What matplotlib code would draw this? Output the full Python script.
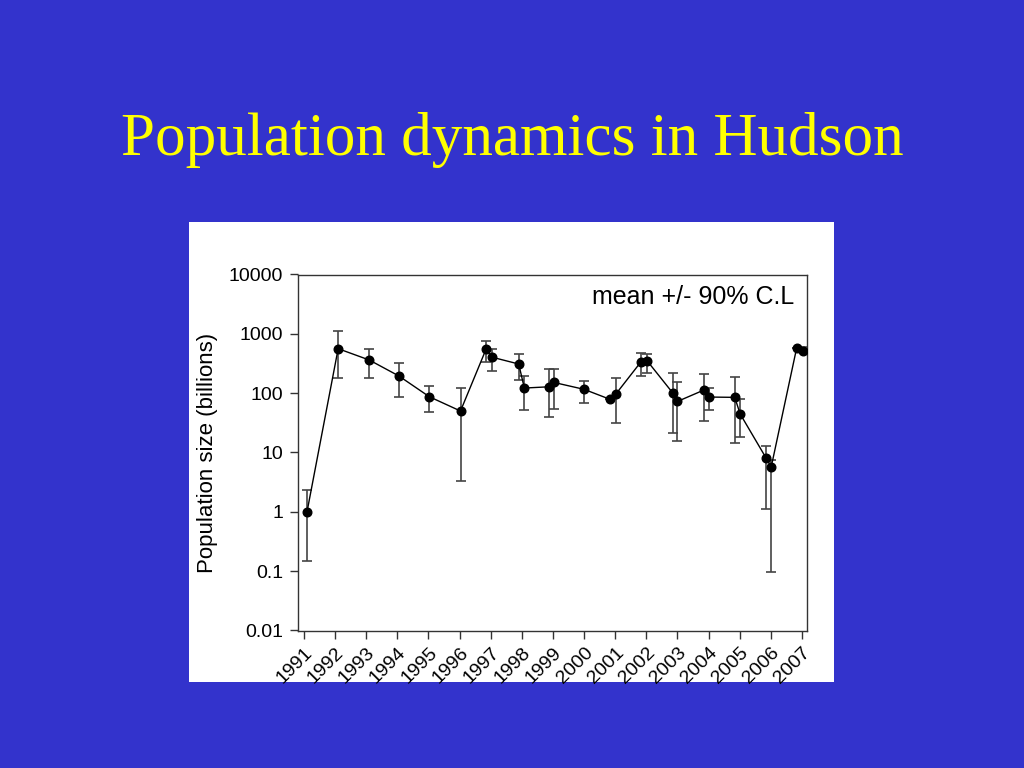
import matplotlib
matplotlib.use("Agg")
import matplotlib.pyplot as plt
import numpy as np

title = "Population dynamics in Hudson"
y_label = "Population size (billions)"
note = "mean +/- 90% C.L"
year_labels = ["1991", "1992", "1993", "1994", "1995", "1996", "1997", "1998", "1999",
               "2000", "2001", "2002", "2003", "2004", "2005", "2006", "2007"]
y_ticks = [0.01, 0.1, 1, 10, 100, 1000, 10000]
y_tick_labels = ["0.01", "0.1", "1", "10", "100", "1000", "10000"]

sample_time = [1991.1, 1992.1, 1993.1, 1994.05, 1995.03, 1996.03, 1996.85, 1997.05,
               1997.9, 1998.08, 1998.87, 1999.02, 2000.0, 2000.84, 2001.02, 2001.83,
               2002.03, 2002.84, 2003.0, 2003.85, 2004.02, 2004.84, 2005.01, 2005.85,
               2006.01, 2006.83, 2007.02]
mean_size = [1.0, 562, 362, 195, 87, 50, 550, 403, 310, 122, 128, 152, 116, 78.5,
             96.6, 339, 348, 102, 72.6, 113, 86, 85, 44.9, 8.0, 5.7, 585, 520]
upper_cl = [2.3, 1107, 550, 318, 132, 120, 750, 556, 452, 197, 255, 258, 160, 78.5,
            178, 482, 463, 216, 152, 207, 123, 189, 78.5, 13.1, 7.4, 585, 600]
lower_cl = [0.148, 180, 180, 85, 48, 3.27, 339, 236, 166, 52, 39, 54, 69, 78.5,
            31, 195, 221, 21.4, 15.7, 34.2, 53, 14.2, 17.9, 1.11, 0.096, 585, 520]

W, H = 1024, 768
fig = plt.figure(figsize=(W / 100, H / 100), dpi=100, facecolor="#3333CC")

# white panel behind the chart
panel = fig.add_axes([189 / W, 1 - 682 / H, (834 - 189) / W, (682 - 222) / H], zorder=-1)
panel.set_facecolor("white")
panel.set_xticks([])
panel.set_yticks([])
for s in panel.spines.values():
    s.set_visible(False)

fig.text(512 / W, 1 - 140 / H, title, color="#FFFF00", fontsize=44,
         family="Liberation Serif", ha="center", va="center")

left, right, top, bottom = 298.3, 806.7, 274.5, 630.5
ax = fig.add_axes([left / W, 1 - bottom / H, (right - left) / W, (bottom - top) / H], zorder=1)
ax.set_facecolor("white")

x = np.array(sample_time)
m = np.array(mean_size)
yerr = np.vstack([m - np.array(lower_cl), np.array(upper_cl) - m])

ax.errorbar(x, m, yerr=yerr, fmt="none", ecolor="#444444", elinewidth=1.2,
            capsize=3.8, capthick=1.2, zorder=2)
ax.plot(x, m, color="black", linewidth=1.0, marker="o", markersize=6.2,
        markerfacecolor="black", markeredgecolor="black", zorder=3)

ax.set_yscale("log")
ax.set_ylim(0.01, 10000)
ax.set_xlim(1990.82, 2007.15)
ax.set_yticks(y_ticks)
ax.set_yticklabels(y_tick_labels, fontsize=14, family="Liberation Sans")
ax.minorticks_off()
xt = [int(s) for s in year_labels]
ax.set_xticks(xt)
ax.set_xticklabels(year_labels, fontsize=14, family="Liberation Sans",
                   rotation=45, ha="right", rotation_mode="anchor")
ax.tick_params(axis="both", direction="out", length=6, width=1, color="#333333")
ax.tick_params(axis="y", pad=5)
ax.tick_params(axis="x", pad=4)
for s in ax.spines.values():
    s.set_linewidth(1.0)
    s.set_color("#333333")

ax.set_ylabel(y_label, fontsize=16, family="Liberation Sans", labelpad=8)
ax.text(0.975, 0.97, note, transform=ax.transAxes, ha="right", va="top",
        fontsize=18, family="Liberation Sans")

fig.savefig("out.png", dpi=100, facecolor=fig.get_facecolor())
